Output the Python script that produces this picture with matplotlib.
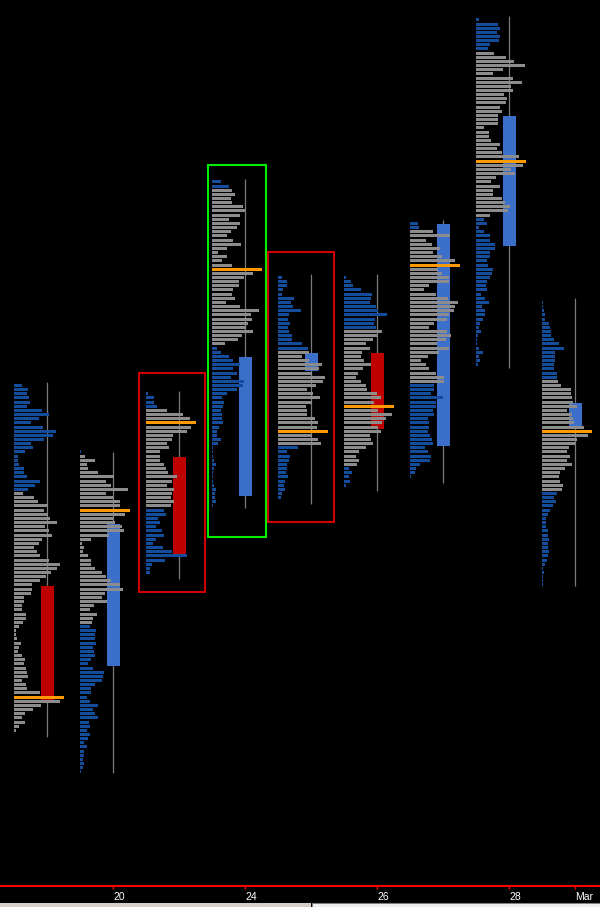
import matplotlib
matplotlib.use('Agg')
import matplotlib.pyplot as plt
from matplotlib.patches import Rectangle
import numpy as np

# session volume profiles, price in ticks, volume rows listed from the high down
tick_days = [1, 3, 5, 7, 8]
tick_labels = ['20', '24', '26', '28', 'Mar']

profile_top = [120, 104, 118, 169, 146, 146, 159, 208, 140]
va_high = [94, 103, 114, 167, 128, 133, 157, 200, 121]
va_low = [37, 63, 91, 130, 106, 101, 121, 161, 95]

vol_d0 = [8, 14, 13, 15, 16, 13, 28, 35, 25, 17, 29, 42, 39, 30, 17, 19, 11, 4, 4, 5, 10, 10, 13, 26, 21, 14,
          9, 20, 24, 34, 30, 34, 36, 43, 31, 35, 38, 28, 25, 20, 23, 26, 35, 46, 43, 37, 32, 26, 18, 18,
          17, 10, 10, 8, 8, 12, 12, 9, 5, 2, 2, 3, 7, 5, 4, 8, 11, 10, 12, 13, 14, 8, 12, 13, 26, 50,
          46, 27, 19, 11, 8, 11, 5, 2]
vol_d1 = [1, 5, 15, 7, 8, 18, 34, 26, 31, 48, 26, 33, 40, 40, 50, 45, 33, 35, 42, 44, 29, 11, 2, 4, 3, 8,
          11, 11, 15, 22, 26, 31, 40, 43, 25, 22, 27, 14, 10, 17, 13, 12, 10, 16, 15, 15, 16, 13, 14, 15,
          11, 8, 13, 24, 23, 22, 15, 11, 11, 7, 10, 18, 13, 15, 18, 9, 10, 7, 10, 8, 4, 7, 4, 4, 3, 4, 3, 1]
vol_d2 = [2, 8, 8, 11, 21, 37, 44, 50, 45, 41, 27, 26, 21, 23, 14, 14, 14, 18, 20, 22, 31, 26, 21, 28, 26,
          25, 28, 25, 18, 20, 12, 14, 10, 16, 18, 10, 7, 17, 26, 41, 19, 6, 4, 4]
vol_d3 = [9, 17, 20, 23, 19, 20, 31, 33, 28, 17, 28, 25, 19, 15, 21, 29, 15, 6, 15, 10, 20, 50, 41, 32, 27,
          27, 21, 20, 23, 14, 28, 47, 39, 40, 36, 34, 41, 30, 26, 13, 5, 9, 17, 21, 28, 21, 25, 19, 32, 31,
          25, 15, 10, 12, 11, 9, 10, 10, 11, 7, 5, 5, 9, 6, 1, 1, 1, 2, 4, 2, 1, 1, 1, 2, 4, 3, 3, 4, 1]
vol_d4 = [4, 9, 9, 5, 4, 16, 13, 15, 23, 11, 10, 12, 10, 11, 14, 14, 24, 30, 31, 24, 31, 44, 41, 34, 47,
          45, 38, 29, 35, 42, 34, 28, 29, 29, 37, 40, 39, 50, 34, 40, 43, 20, 9, 12, 11, 9, 9, 8, 10, 7,
          6, 7, 4, 3]
vol_d5 = [2, 7, 9, 17, 28, 27, 26, 32, 34, 43, 31, 30, 32, 38, 33, 29, 22, 26, 18, 17, 20, 27, 19, 14, 12,
          17, 22, 23, 33, 37, 30, 50, 34, 48, 42, 38, 34, 37, 26, 27, 29, 22, 15, 12, 15, 13, 5, 8, 5, 6, 2]
vol_d6 = [8, 9, 23, 40, 16, 22, 30, 23, 32, 45, 50, 28, 32, 39, 39, 19, 14, 26, 38, 48, 45, 44, 39, 37, 24,
          19, 37, 41, 36, 27, 39, 29, 18, 11, 16, 19, 26, 34, 34, 24, 24, 21, 33, 26, 26, 23, 24, 18, 19,
          19, 18, 20, 22, 23, 15, 18, 21, 20, 10, 6, 5, 1]
vol_d7 = [3, 22, 24, 21, 24, 23, 14, 12, 18, 30, 38, 49, 27, 17, 37, 46, 35, 37, 28, 31, 30, 24, 26, 22, 22,
          22, 8, 13, 13, 15, 24, 21, 26, 43, 50, 47, 35, 39, 20, 15, 24, 17, 17, 26, 29, 34, 32, 14, 8, 11,
          3, 8, 14, 14, 19, 19, 14, 14, 11, 12, 17, 16, 14, 11, 10, 11, 5, 9, 13, 6, 9, 9, 7, 4, 3, 5, 2,
          1, 1, 3, 7, 3, 4, 2]
vol_d8 = [1, 1, 2, 3, 3, 7, 8, 9, 9, 12, 17, 22, 13, 13, 13, 12, 12, 15, 15, 16, 19, 29, 29, 30, 31, 35,
          25, 30, 31, 32, 42, 50, 46, 35, 33, 27, 25, 28, 25, 30, 23, 18, 17, 18, 21, 20, 15, 12, 14, 11,
          8, 6, 4, 4, 4, 6, 6, 7, 6, 6, 7, 6, 5, 3, 1, 2, 1, 1, 1]
volumes = [vol_d0, vol_d1, vol_d2, vol_d3, vol_d4, vol_d5, vol_d6, vol_d7, vol_d8]

opens = [71.7, 52.5, 102.8, 93.4, 123.5, 127.8, 105.4, 153.6, 110.2]
highs = [120.8, 104.0, 118.6, 169.7, 146.8, 146.8, 159.8, 208.9, 141.0]
lows = [35.4, 26.8, 73.4, 90.5, 91.5, 94.6, 96.5, 124.2, 71.7]
closes = [43.6, 86.7, 79.2, 126.8, 127.8, 109.5, 158.8, 184.8, 115.8]

# highlighted sessions
box_day = [2, 3, 4]
box_low = [70.3, 83.6, 87.1]
box_high = [123.0, 173.1, 152.1]
box_left = [-0.106, -0.061, -0.152]
box_right = [0.894, 0.818, 0.848]
box_color = ['#d00000', '#00ee00', '#d00000']

blue_bar = '#134d9c'
gray_bar = '#8c8c8c'
poc_color = '#ff9900'
up_color = '#3b6fca'
down_color = '#bf0000'
wick_color = '#7a7a7a'

fig = plt.figure(figsize=(6, 9.07), dpi=100, facecolor='black')
ax = fig.add_axes([0, 21 / 907, 1, 886 / 907], facecolor='black')

day_px = 66
for d, vols in enumerate(volumes):
    vols = np.array(vols, dtype=float)
    prices = profile_top[d] - np.arange(len(vols))
    widths = vols / vols.max() * (50 / day_px)
    inside = (prices <= va_high[d]) & (prices >= va_low[d])
    colors = [gray_bar if v else blue_bar for v in inside]
    colors[int(np.argmax(vols))] = poc_color

    cx = d + 33.5 / day_px
    ax.vlines(cx, lows[d], highs[d], color=wick_color, lw=0.9, zorder=1)
    ax.bar(cx, closes[d] - opens[d], bottom=opens[d], width=13 / day_px,
           color=up_color if closes[d] > opens[d] else down_color, linewidth=0,
           antialiased=False, zorder=2)
    ax.barh(prices, widths, height=0.72, left=d, color=colors, linewidth=0,
            antialiased=False, zorder=3)

for d, lo, hi, l, r, c in zip(box_day, box_low, box_high, box_left, box_right, box_color):
    ax.add_patch(Rectangle((d + l, lo), r - l, hi - lo, fill=False, edgecolor=c, lw=1.5, zorder=4))

ax.set_xlim(-14 / day_px, 586 / day_px)
ax.set_ylim((884.1 - 886) / 4.155, 884.1 / 4.155)

ax.set_xticks([d + 33.5 / day_px for d in tick_days])
ax.set_xticklabels(tick_labels, ha='left', family='Liberation Sans', fontsize=7.5)
ax.tick_params(axis='x', colors='#ff0000', labelcolor='white', length=2, width=1, pad=2.5)
ax.set_yticks([])
for side in ['top', 'left', 'right']:
    ax.spines[side].set_visible(False)
ax.spines['bottom'].set_color('#ff0000')
ax.spines['bottom'].set_linewidth(1.5)

# status strip along the bottom edge
fig.add_artist(Rectangle((0, 0), 311 / 600, 4 / 907, transform=fig.transFigure,
                         facecolor='#d4d0c8', edgecolor='none'))
fig.add_artist(Rectangle((312 / 600, 0), 288 / 600, 4 / 907, transform=fig.transFigure,
                         facecolor='#f4f4f4', edgecolor='#808080', lw=0.8))

fig.savefig('out.png', dpi=100, facecolor='black')
